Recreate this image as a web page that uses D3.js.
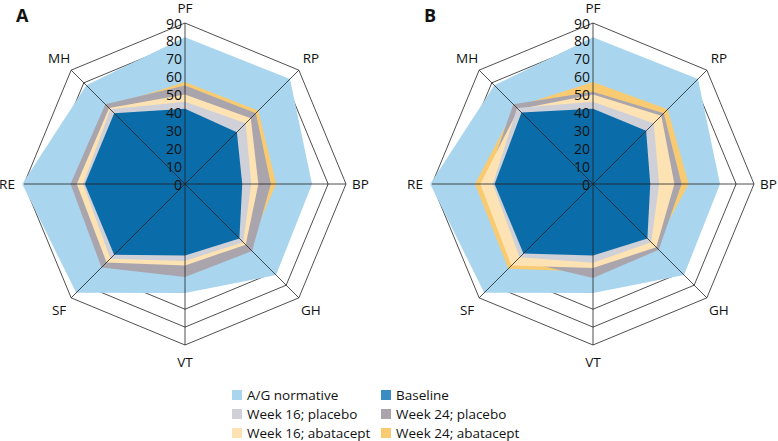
<!DOCTYPE html>
<html>
<head>
<meta charset="utf-8">
<script src="https://cdn.jsdelivr.net/npm/d3@7"></script>
<style>
  html, body { margin: 0; padding: 0; background: #fff; }
  svg { display: block; }
  text { font-family: "Open Sans", "Noto Sans", sans-serif; fill: #111; }
</style>
</head>
<body>
<svg id="chart" width="778" height="441"></svg>
<script>
// ---- Data ----
const axes = ["PF", "RP", "BP", "GH", "VT", "SF", "RE", "MH"];
const tickValues = [0, 10, 20, 30, 40, 50, 60, 70, 80, 90];
const seriesNames = ["A/G normative", "Baseline", "Week 16; placebo", "Week 24; placebo", "Week 16; abatacept", "Week 24; abatacept"];

const normative = [82, 83, 71, 72, 61, 86, 91, 78];

const baselineA      = [42, 41, 32, 43, 40, 56, 56, 56];
const w16PlaceboA    = [46, 48, 37, 46, 43, 59, 57, 59];
const w16AbataceptA  = [50, 52, 41, 48, 45.5, 62, 60.5, 60];
const w24PlaceboA    = [55, 56, 48, 53, 52, 66, 64, 63];
const w24AbataceptA  = [57, 58, 51, 50, 46, 60, 62, 61];

const baselineB      = [42, 42, 32, 43, 40, 55, 55, 56.5];
const w16PlaceboB    = [46, 48, 37, 46, 44, 58, 56, 60];
const w16AbataceptB  = [50, 54, 45.5, 50, 47, 64.5, 63, 59];
const w24PlaceboB    = [51.5, 56, 49.5, 52, 52.5, 60, 60, 63];
const w24AbataceptB  = [57, 59, 53.5, 49, 49, 67, 66, 61];

// ---- Styling ----
const colors = {
  "A/G normative": "#a9d6ee",
  "Baseline": "#0a6ca8",
  "Week 16; placebo": "#d0d0d8",
  "Week 24; placebo": "#aaa4ac",
  "Week 16; abatacept": "#fde3b3",
  "Week 24; abatacept": "#f8cb72"
};
const legendColors = Object.assign({}, colors, { "Baseline": "#3b8cc2" });

const svg = d3.select("#chart");
const R = 161;
const rScale = d3.scaleLinear().domain([0, 90]).range([0, R]);
const angle = i => i * Math.PI / 4;

function drawPanel(cx, cy, letter, layers) {
  const g = svg.append("g").attr("transform", `translate(${cx},${cy})`);

  // rings
  const ringLine = d3.lineRadial().angle((d, i) => angle(i)).radius(d => rScale(d)).curve(d3.curveLinearClosed);
  g.selectAll("path.ring").data(tickValues.filter(v => v > 0)).join("path")
    .attr("class", "ring")
    .attr("d", v => ringLine(axes.map(() => v)))
    .attr("fill", "none").attr("stroke", "#222").attr("stroke-width", 0.8);

  // areas
  const areaLine = d3.lineRadial().angle((d, i) => angle(i)).radius(d => rScale(d)).curve(d3.curveLinearClosed);
  layers.forEach(l => {
    g.append("path").attr("d", areaLine(l.values)).attr("fill", colors[l.name]).attr("stroke", "none");
  });

  // spokes
  g.selectAll("line.spoke").data(axes).join("line")
    .attr("class", "spoke")
    .attr("x1", 0).attr("y1", 0)
    .attr("x2", (d, i) => rScale(90) * Math.sin(angle(i)))
    .attr("y2", (d, i) => -rScale(90) * Math.cos(angle(i)))
    .attr("stroke", "#222").attr("stroke-width", 0.8);

  // tick labels
  g.selectAll("text.tick").data(tickValues).join("text")
    .attr("class", "tick")
    .attr("x", -3).attr("y", d => -rScale(d))
    .attr("text-anchor", "end").attr("dominant-baseline", "central")
    .attr("font-size", 14)
    .text(d => d);

  // axis labels
  const LR = 178;
  g.selectAll("text.axis").data(axes).join("text")
    .attr("class", "axis")
    .attr("x", (d, i) => i === 2 ? 167 : LR * Math.sin(angle(i)))
    .attr("y", (d, i) => i === 0 ? -(cy - 8) : -LR * Math.cos(angle(i)))
    .attr("text-anchor", (d, i) => i === 2 ? "start" : "middle")
    .attr("dominant-baseline", "central")
    .attr("font-size", 13.5)
    .text(d => d);

  // panel letter
  svg.append("text").attr("x", cx - 169).attr("y", 22)
    .attr("font-size", 18).attr("font-weight", "bold").text(letter);
}

drawPanel(185, 184, "A", [
  { name: "A/G normative", values: normative },
  { name: "Week 24; abatacept", values: w24AbataceptA },
  { name: "Week 24; placebo", values: w24PlaceboA },
  { name: "Week 16; abatacept", values: w16AbataceptA },
  { name: "Week 16; placebo", values: w16PlaceboA },
  { name: "Baseline", values: baselineA }
]);
drawPanel(593, 184, "B", [
  { name: "A/G normative", values: normative },
  { name: "Week 24; abatacept", values: w24AbataceptB },
  { name: "Week 24; placebo", values: w24PlaceboB },
  { name: "Week 16; abatacept", values: w16AbataceptB },
  { name: "Week 16; placebo", values: w16PlaceboB },
  { name: "Baseline", values: baselineB }
]);

// legend
const legendX = [232, 381];
const legendY = [395, 414, 433];
const lg = svg.append("g");
seriesNames.forEach((name, i) => {
  const col = i % 2, row = Math.floor(i / 2);
  lg.append("rect").attr("x", legendX[col]).attr("y", legendY[row] - 5)
    .attr("width", 10).attr("height", 10).attr("fill", legendColors[name]);
  lg.append("text").attr("x", legendX[col] + 15).attr("y", legendY[row])
    .attr("dominant-baseline", "central").attr("font-size", 13.5).text(name);
});
</script>
</body>
</html>
